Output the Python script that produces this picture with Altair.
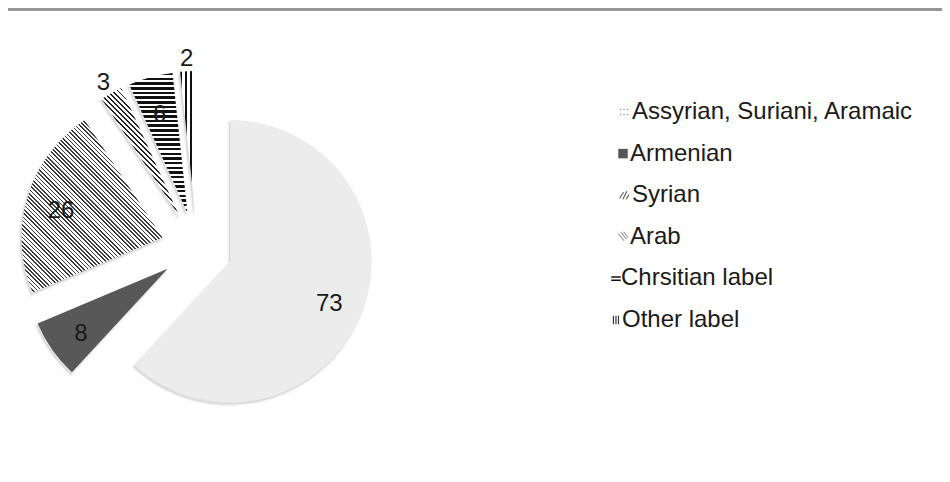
import math
import altair as alt
import pandas as pd

# ---- data -------------------------------------------------------------
categories = ["Assyrian, Suriani, Aramaic", "Armenian", "Syrian", "Arab",
              "Chrsitian label", "Other label"]
values = [73, 8, 26, 3, 6, 2]

df = pd.DataFrame({"cat": categories, "value": values, "idx": list(range(len(values)))})

# ---- layout / style (chart pixel space; page margin is 8px) -----------
W, H = 934, 466
CX, CY = 189, 240          # centre of the (un-exploded) pie
R = 141                    # pie radius
EXPLODE = 36               # explode distance of every slice
LABEL_IN, LABEL_OUT = 106, 157
FONT = "Liberation Sans"

legend_y_range = [104, 312]
legend_icon_x = [616, 615, 616, 615, 608, 608]
legend_text_x = [624, 622, 624, 622, 613, 614]
LEGEND_FONT = 24

total = sum(values)


def slice_bbox(i):
    t1 = 2 * math.pi * sum(values[: i + 1]) / total
    t0 = t1 - 2 * math.pi * values[i] / total
    xs, ys = [0.0], [0.0]
    for k in range(61):
        t = t0 + (t1 - t0) * k / 60
        xs.append(R * math.sin(t))
        ys.append(-R * math.cos(t))
    return max(xs) - min(xs), max(ys) - min(ys)


def stripes(kind, w, h, period, ratio, fg, bg="#ffffff"):
    if kind == "h":
        x1, y1, x2, y2, L = 0, 0, 0, 1, h
    elif kind == "v":
        x1, y1, x2, y2, L = 0, 0, 1, 0, w
    else:
        s = (w + h) / (w * w + h * h)
        L = (w + h) / math.sqrt(2)
        if kind == "bs":      # "\" lines
            x1, y1, x2, y2 = 0, 1, s * w, 1 - s * h
        else:                 # "/" lines
            x1, y1, x2, y2 = 0, 0, s * w, s * h
    n = max(1, round(L / period))
    stops = []
    for j in range(n):
        a, b, c = j / n, (j + ratio) / n, (j + 1) / n
        stops += [{"offset": round(a, 5), "color": fg},
                  {"offset": round(b, 5), "color": fg},
                  {"offset": round(b, 5), "color": bg},
                  {"offset": round(c, 5), "color": bg}]
    return {"gradient": "linear", "x1": round(x1, 5), "y1": round(y1, 5),
            "x2": round(x2, 5), "y2": round(y2, 5), "stops": stops}


bb = [slice_bbox(i) for i in range(len(values))]
slice_fills = [
    "#ececec",
    "#585858",
    stripes("bs", *bb[2], period=3.0, ratio=0.38, fg="#3a3a3a"),
    stripes("bs", *bb[3], period=3.6, ratio=0.33, fg="#222222"),
    stripes("h", *bb[4], period=4.6, ratio=0.52, fg="#111111"),
    stripes("v", *bb[5], period=5.0, ratio=0.3, fg="#111111"),
]

# legend icons as small custom symbol paths ([-1,1] box)
dots = " ".join(
    f"M{x - 0.12:.2f},{y - 0.12:.2f}h0.24v0.24h-0.24Z"
    for x in (-0.7, 0.0, 0.7) for y in (-0.5, 0.5))
icon_shapes = [
    dots,
    "square",
    "M-1,0.6L-0.2,-0.6L0.05,-0.6L-0.75,0.6Z M-0.35,0.8L0.45,-0.8L0.7,-0.8L-0.1,0.8Z M0.3,0.8L1,-0.3L1,0.1L0.55,0.8Z",
    "M-1,-0.6L-0.8,-0.6L0.3,0.8L0.1,0.8Z M-0.5,-0.9L-0.3,-0.9L0.8,0.5L0.6,0.5Z M0,-1L0.2,-1L1,0L1,0.25Z",
    "M-1,-0.45h2v0.3h-2Z M-1,0.25h2v0.3h-2Z",
    "M-0.75,-1h0.28v2h-0.28Z M-0.15,-1h0.28v2h-0.28Z M0.45,-1h0.28v2h-0.28Z",
]
icon_fills = ["#8a8a8a", "#555555", "#555555", "#777777", "#111111", "#333333"]
icon_sizes = [110, 90, 100, 100, 90, 70]

# ---- geometry through the library -------------------------------------
base = (
    alt.Chart(df)
    .transform_window(cum="sum(value)", sort=[alt.SortField("idx")], frame=[None, 0])
    .transform_joinaggregate(total="sum(value)")
    .transform_calculate(
        t1="2*PI*datum.cum/datum.total",
        t0="2*PI*(datum.cum-datum.value)/datum.total",
    )
    .transform_calculate(
        mid="(datum.t0+datum.t1)/2",
        lr=f"datum.value/datum.total < 0.04 ? {LABEL_OUT} : {LABEL_IN}",
    )
    .transform_calculate(ox="sin(datum.mid)", oy="-cos(datum.mid)")
)


def pos(dx=0, dy=0):
    return dict(
        x=alt.X("ox:Q", scale=alt.Scale(domain=[-1, 1], range=[CX - EXPLODE + dx, CX + EXPLODE + dx], nice=False, zero=False), axis=None),
        y=alt.Y("oy:Q", scale=alt.Scale(domain=[-1, 1], range=[CY - EXPLODE + dy, CY + EXPLODE + dy], nice=False, zero=False), axis=None),
    )


layers = []

top_rule = alt.Chart(df).mark_rule(color="#979797", strokeWidth=3).encode(
    x=alt.value(-2), x2=alt.value(W + 2), y=alt.value(1.5))
layers.append(top_rule)

shadow = base.mark_arc(radius=R, fill="#000000", fillOpacity=0.10, stroke="#000000",
                       strokeOpacity=0.05, strokeWidth=3).encode(
    theta=alt.Theta("t0:Q", scale=None), theta2=alt.Theta2("t1:Q"), **pos(-1.5, 2.5))
layers.append(shadow)

for i, c in enumerate(categories):
    arc = base.transform_filter(alt.datum.idx == i).mark_arc(radius=R).encode(
        theta=alt.Theta("t0:Q", scale=None), theta2=alt.Theta2("t1:Q"),
        fill=alt.value(slice_fills[i]), **pos())
    layers.append(arc)

labels = base.mark_text(font=FONT, fontSize=24, color="#1a1a1a",
                        align="center", baseline="middle", dy=4).encode(
    theta=alt.Theta("mid:Q", scale=None), radius=alt.Radius("lr:Q", scale=None),
    text=alt.Text("value:Q"), **pos())
layers.append(labels)

ly = alt.Y("cat:N", scale=alt.Scale(domain=categories, range=legend_y_range, padding=0), axis=None)
for i, c in enumerate(categories):
    sub = alt.Chart(df).transform_filter(alt.datum.idx == i)
    icon = sub.mark_point(shape=icon_shapes[i], filled=True, fill=icon_fills[i],
                          strokeWidth=0, size=icon_sizes[i], opacity=1).encode(
        x=alt.value(legend_icon_x[i]), y=ly)
    txt = sub.mark_text(font=FONT, fontSize=LEGEND_FONT, color="#1a1a1a", align="left",
                        baseline="middle").encode(
        x=alt.value(legend_text_x[i]), y=ly, text="cat:N")
    layers += [icon, txt]

chart = (
    alt.layer(*layers)
    .resolve_scale(x="independent", y="independent")
    .properties(width=W, height=H, padding=0, autosize=alt.AutoSizeParams(type="none"),
                background="#ffffff")
    .configure_view(stroke=None)
)

chart.save("out.html", embed_options={"renderer": "svg", "actions": False})
